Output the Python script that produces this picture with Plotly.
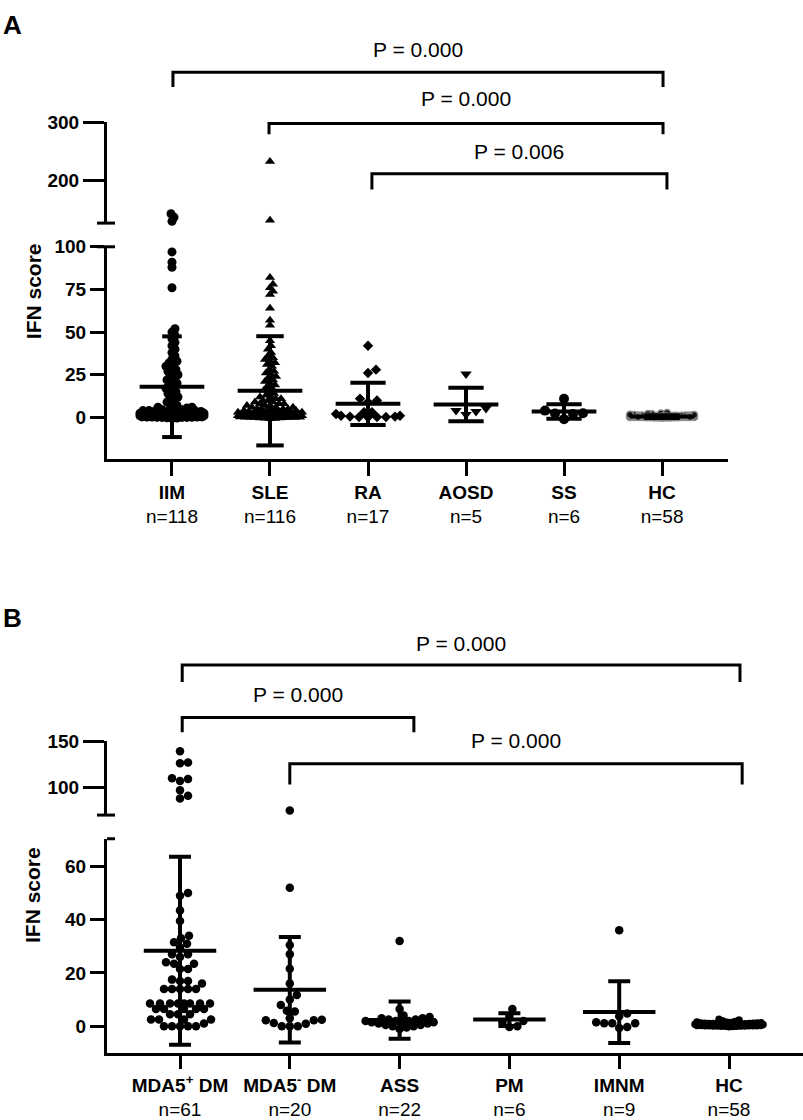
import math
import plotly.graph_objects as go

W, H = 803, 1120
FONT = "Liberation Sans, Arial, sans-serif"

# ---------------- panel A data ----------------
a_groups = ["IIM", "SLE", "RA", "AOSD", "SS", "HC"]
a_counts = [118, 116, 17, 5, 6, 58]

iim = [143, 137, 130, 97, 91, 88, 76,
       52, 50, 48, 46, 44, 42, 40, 38, 36, 34, 33, 32, 31, 30, 29, 28, 27, 26, 25,
       24, 23, 22, 21, 20, 19, 18, 17, 16, 15, 14, 13, 12, 11, 10, 9, 8, 7,
       6, 6, 5.5, 5, 5, 4.5, 4.5, 4, 4, 4, 3.5, 3.5, 3.5, 3, 3, 3, 3, 3, 2.8, 2.6,
       2.5, 2.5, 2.4, 2.3, 2.2, 2.2, 2.1, 2, 2, 2, 2, 1.9, 1.8, 1.8, 1.7, 1.6, 1.5,
       1.5, 1.5, 1.4, 1.3, 1.2, 1.2, 1.1, 1, 1, 1, 1, 0.9, 0.9, 0.8, 0.8, 0.7, 0.7,
       0.6, 0.6, 0.5, 0.5, 0.5, 0.4, 0.4, 0.3, 0.3, 0.2, 0.2, 0.2, 0.1, 0.1, 0, 0,
       0, -0.2, -0.3, -0.5]
sle = [233, 132, 82, 78, 76, 74, 72, 64, 57, 54,
       45, 42, 40, 38, 36, 35, 34, 33, 32, 31, 30, 28, 27, 26, 25, 24, 23, 22, 21,
       20, 19, 18, 17, 16, 15, 14, 13, 12, 12, 11, 11, 10, 10, 9, 9, 8, 8, 8, 7, 7,
       7, 6, 6, 6, 5, 5, 5, 5,
       4, 4, 4, 4, 3.5, 3.5, 3.5, 3, 3, 3, 3, 3, 2.5, 2.5, 2.5, 2.5, 2, 2, 2, 2,
       2, 2, 1.8, 1.6, 1.5, 1.5, 1.5, 1.2, 1.2, 1, 1, 1, 1, 0.8, 0.8, 0.7, 0.6, 0.5,
       0.5, 0.5, 0.4, 0.4, 0.3, 0.3, 0.2, 0.2, 0.1, 0.1, 0, 0, 0, 0, -0.2, -0.3,
       -0.4, -0.5, -0.6, -0.8]
ra = [42, 28, 26, 11, 10, 9, 3, 3, 2, 1, 1, 0.5, 0.5, 0.3, 0.2, 0.2, 0.1]
aosd = [25.5, 5.2, 4.0, 3.5, 1.7]
ss = [11, 4, 2.5, 2.3, 2.0, -1.0]
hc = [0.0, 0.1, 0.1, 0.2, 0.2, 0.2, 0.3, 0.3, 0.3, 0.3, 0.4, 0.4, 0.4, 0.5, 0.5,
      0.5, 0.5, 0.6, 0.6, 0.6, 0.7, 0.7, 0.7, 0.8, 0.8, 0.8, 0.9, 0.9, 1.0, 1.0,
      1.0, 1.1, 1.1, 1.2, 1.2, 1.3, 1.4, 1.5, 1.6, 1.8, 2.0, 2.3, 2.6, 0.0, -0.1,
      -0.2, 0.1, 0.2, 0.3, 0.4, 0.5, 0.6, 0.2, 0.3, 0.1, 0.4, 0.0, 0.6]

a_means = [18.0, 15.6, 8.0, 7.6, 3.5, 0.5]
a_sds = [29.5, 32.0, 12.4, 9.8, 4.3, 0.8]
a_pvals = [(0, 5, "P = 0.000"), (1, 5, "P = 0.000"), (2, 5, "P = 0.006")]

# ---------------- panel B data ----------------
b_groups = ["MDA5<sup>+</sup> DM", "MDA5<sup>-</sup> DM", "ASS", "PM", "IMNM", "HC"]
b_counts = [61, 20, 22, 6, 9, 58]

mda5_pos = [139, 127, 126, 110, 109, 107, 97, 91, 88,
            50, 49, 43.5, 39.5, 34, 33, 31.5, 31, 29.5, 27, 27, 26, 24, 23.5, 23.5,
            21.5, 21.5, 17.5, 17, 17, 16, 14, 14, 14, 14, 14,
            8.5, 8.5, 8.5, 8.5, 8.5, 8.5, 8.5, 8.5, 6.5, 6.5, 6.5, 6.5, 6.5,
            4.5, 4.5, 4.5, 2.5, 2.5, 2.5, 2.5, 0, 0, 0, 0, 0, 1]
mda5_neg = [75, 52, 30.5, 27, 21.6, 16, 11.7, 10, 8, 5.8, 5.5, 3, 2.2, 2.4, 2.2,
            1.2, 0.9, 0, 0, 0]
ass = [32, 6.5, 4, 3.5, 3, 3, 2.5, 2.5, 2, 2, 2, 1.5, 1.5, 1.5, 1, 1, 0.5, 0.5,
       0, 0, -0.5, -1]
pm = [6.5, 3.7, 2.0, 1.5, 0.0, -0.3]
imnm = [36, 4.8, 3.7, 1.5, 1.1, 1.1, 1.1, -0.3, -0.7]

b_means = [28.3, 13.7, 2.3, 2.5, 5.3, 0.4]
b_sds = [35.3, 19.8, 7.0, 2.4, 11.6, 0.6]
b_pvals = [(0, 5, "P = 0.000"), (0, 2, "P = 0.000"), (1, 5, "P = 0.000")]


def py(p):
    return 1 - p / H


def px(p):
    return p / W


# panel geometry (pixels in the 803x1120 page)
panels = [
    dict(xa="x", lo="y", hi="y2", xpx=(107, 728), xr=(-0.663, 5.673),
         lopx=(240, 455), lor=(-24.3, 100), hipx=(114, 216), hir=(127, 300),
         lot=[0, 25, 50, 75, 100], hit=[200, 300],
         groups=a_groups, counts=a_counts, data=[iim, sle, ra, aosd, ss, hc],
         means=a_means, sds=a_sds, pvals=a_pvals,
         symbols=["circle", "triangle-up", "diamond", "triangle-down", "circle", "circle"],
         sizes=[9, 9, 8, 10, 10, 7], gaps=[4.5, 4.5, 8.5, 10, 10, 3.5], half=32,
         caps=[0.1, 0.14, 0.18, 0.18, 0.18, 0.18],
         br_y=[63, 115, 166], br_drop=[78, 126, 182], txt_y=[40, 90, 143],
         br_off=[(0.01, 0.01), (-0.01, 0.01), (0.04, 0.05)],
         label="A", label_y=15, title_y=285, ticklen_x=14, dom_lo_top=True),
    dict(xa="x2", lo="y3", hi="y4", xpx=(107, 803), xr=(-0.665, 5.674),
         lopx=(840, 1057), lor=(-10.0, 70.4), hipx=(741, 816), hir=(70.2, 150),
         lot=[0, 20, 40, 60], hit=[100, 150],
         groups=b_groups, counts=b_counts, data=[mda5_pos, mda5_neg, ass, pm, imnm, hc],
         means=b_means, sds=b_sds, pvals=b_pvals,
         symbols=["circle"] * 6, sizes=[8.5] * 5 + [7.5], gaps=[8, 8, 7, 8, 8, 4], half=34,
         caps=[0.1] * 6,
         br_y=[664, 717, 764], br_drop=[681, 732, 785], txt_y=[642, 694, 740],
         br_off=[(0.02, 0.1), (0.02, 0.13), (0.0, 0.12)],
         label="B", label_y=616, title_y=897, ticklen_x=13, dom_lo_top=False),
]


def ypix(v, p):
    if v <= p["lor"][1]:
        r, d = p["lor"], p["lopx"]
    else:
        r, d = p["hir"], p["hipx"]
    f = (v - r[0]) / (r[1] - r[0])
    return d[1] - f * (d[1] - d[0])


def swarm(vals, ys, gap, half):
    order = sorted(range(len(vals)), key=lambda k: vals[k])
    cands = [0] + [s * k for k in range(1, int(half) + 1) for s in (1, -1)]
    placed, offs = [], [0] * len(vals)
    for k in order:
        y = ys[k]
        best, bestd = 0, -1
        near = [(a, b) for a, b in placed if abs(b - y) < gap]
        for c in cands:
            md = min((math.hypot(c - a, y - b) for a, b in near), default=1e9)
            if md >= gap:
                best = c
                break
            if md > bestd:
                best, bestd = c, md
        offs[k] = best
        placed.append((best, y))
    return offs


fig = go.Figure()
shapes, annos = [], []
layout = {}
axis_style = dict(showline=True, linewidth=3, linecolor="black", ticks="outside",
                  tickwidth=3, tickcolor="black", showgrid=False, zeroline=False,
                  tickfont=dict(family=FONT, size=19, color="black", weight="bold"))

for n, p in enumerate(panels):
    ppc = (p["xpx"][1] - p["xpx"][0]) / (p["xr"][1] - p["xr"][0])
    for i, vals in enumerate(p["data"]):
        ys = [ypix(v, p) for v in vals]
        offs = swarm(vals, ys, p["gaps"][i], p["half"])
        xs = [i + o / ppc for o in offs]
        hc_a = (n == 0 and i == 5)
        mk = dict(symbol=p["symbols"][i], size=p["sizes"][i],
                  color="#111111" if hc_a else "black",
                  line=dict(width=1.5, color="#8c8c8c") if hc_a else dict(width=0))
        lo_x = [x for x, v in zip(xs, vals) if v <= p["lor"][1]]
        lo_y = [v for v in vals if v <= p["lor"][1]]
        hi_x = [x for x, v in zip(xs, vals) if v > p["lor"][1]]
        hi_y = [v for v in vals if v > p["lor"][1]]
        fig.add_trace(go.Scatter(x=lo_x, y=lo_y, mode="markers", marker=mk,
                                 xaxis=p["xa"], yaxis=p["lo"], cliponaxis=False))
        if hi_y:
            fig.add_trace(go.Scatter(x=hi_x, y=hi_y, mode="markers", marker=mk,
                                     xaxis=p["xa"], yaxis=p["hi"], cliponaxis=False))

    # mean and SD bars
    lx, ly = [], []
    for i, (m, s) in enumerate(zip(p["means"], p["sds"])):
        c = p["caps"][i]
        lx += [i - 0.33, i + 0.33, None, i, i, None, i - c, i + c, None, i - c, i + c, None]
        ly += [m, m, None, m - s, m + s, None, m + s, m + s, None, m - s, m - s, None]
    fig.add_trace(go.Scatter(x=lx, y=ly, mode="lines", line=dict(color="black", width=4),
                             xaxis=p["xa"], yaxis=p["lo"], cliponaxis=False))

    # axes
    xkey = "xaxis" if n == 0 else "xaxis2"
    lokey = "yaxis" if n == 0 else "yaxis3"
    hikey = "yaxis2" if n == 0 else "yaxis4"
    ticktext = ["<b>%s</b><br>n=%d" % (g, c) for g, c in zip(p["groups"], p["counts"])]
    layout[xkey] = dict(axis_style, domain=[px(p["xpx"][0]), px(p["xpx"][1])],
                        range=list(p["xr"]), anchor=p["lo"], tickvals=list(range(6)),
                        ticktext=ticktext, ticklen=p["ticklen_x"],
                        tickfont=dict(family=FONT, size=19, color="black"))
    layout[lokey] = dict(axis_style, domain=[py(p["lopx"][1]), py(p["lopx"][0])],
                         range=list(p["lor"]), anchor=p["xa"], tickvals=p["lot"], ticklen=14)
    layout[hikey] = dict(axis_style, domain=[py(p["hipx"][1]), py(p["hipx"][0])],
                         range=list(p["hir"]), anchor=p["xa"], tickvals=p["hit"], ticklen=21)

    # axis break marks
    shapes.append(dict(type="line", xref="paper", yref="paper", x0=px(97), x1=px(115),
                       y0=py(p["hipx"][1]), y1=py(p["hipx"][1]),
                       line=dict(color="black", width=3)))
    shapes.append(dict(type="line", xref="paper", yref="paper",
                       x0=px(97 if p["dom_lo_top"] else 107), x1=px(115),
                       y0=py(p["lopx"][0]), y1=py(p["lopx"][0]),
                       line=dict(color="black", width=3)))

    # significance brackets
    for k, (a, b, txt) in enumerate(p["pvals"]):
        x0 = a + p["br_off"][k][0]
        x1 = b + p["br_off"][k][1]
        yt, yd = py(p["br_y"][k]), py(p["br_drop"][k])
        shapes.append(dict(type="path", xref=p["xa"], yref="paper",
                           path="M %f,%f L %f,%f L %f,%f L %f,%f" % (x0, yd, x0, yt, x1, yt, x1, yd),
                           line=dict(color="black", width=3)))
        annos.append(dict(xref=p["xa"], yref="paper", x=(x0 + x1) / 2, y=py(p["txt_y"][k]),
                          text=txt, showarrow=False, xanchor="center", yanchor="middle",
                          font=dict(family=FONT, size=21, color="black")))

    annos.append(dict(xref="paper", yref="paper", x=px(1), y=py(p["label_y"]),
                      text="<b>%s</b>" % p["label"], showarrow=False, xanchor="left",
                      yanchor="middle", font=dict(family=FONT, size=26, color="black")))
    annos.append(dict(xref="paper", yref="paper", x=px(33), y=py(p["title_y"]),
                      text="<b>IFN score</b>", textangle=-90, showarrow=False,
                      xanchor="center", yanchor="middle",
                      font=dict(family=FONT, size=21, color="black")))

fig.update_layout(width=W, height=H, margin=dict(l=0, r=0, t=0, b=0),
                  plot_bgcolor="white", paper_bgcolor="white", showlegend=False,
                  hovermode=False, shapes=shapes, annotations=annos, **layout)

# drop the default page margin so the 803x1120 figure fills the window exactly
fig.write_html("out.html", config={"displayModeBar": False},
               post_script="document.body.style.margin='0';document.body.style.overflow='hidden';")
